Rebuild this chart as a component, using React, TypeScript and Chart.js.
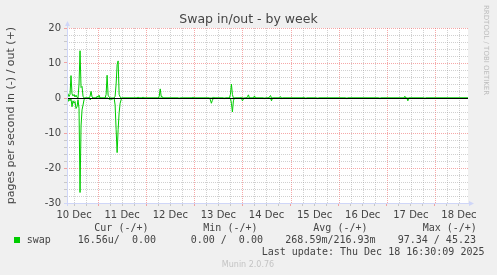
import React, { useEffect, useRef } from "react";
import { Chart, registerables } from "chart.js";

Chart.register(...registerables);

// ---- text ----
const titleText = "Swap in/out - by week";
const yAxisTitle = "pages per second in (-) / out (+)";
const watermark = "RRDTOOL / TOBI OETIKER";
const legendHeaders = ["Cur (-/+)", "Min (-/+)", "Avg (-/+)", "Max (-/+)"];
const legendName = "swap";
const legendValues = ["16.56u/  0.00", "0.00 /  0.00", "268.59m/216.93m", "97.34 / 45.23"];
const lastUpdate = "Last update: Thu Dec 18 16:30:09 2025";
const footerText = "Munin 2.0.76";

// ---- axes (x in hours since 10 Dec 00:00) ----
const xMin = 8.5;
const xMax = 208.5;
const xGridStepHours = 6;
const xMajorHours = 24;
const dayLabels = ["10 Dec", "11 Dec", "12 Dec", "13 Dec", "14 Dec", "15 Dec", "16 Dec", "17 Dec", "18 Dec"];
const dayLabelHours = [12, 36, 60, 84, 108, 132, 156, 180, 204];
const yMin = -30;
const yMax = 20;
const yGridStep = 2;
const yMajorStep = 10;

// ---- series: swap out (+) ----
const outHours = [
  8.5, 9, 9.5, 10, 10.5, 11, 11.5, 12, 12.5, 13, 13.5, 14, 14.5, 15, 15.5, 16, 16.5, 17,
  19.5, 20, 20.5, 21, 21.5,
  23, 23.5, 24, 24.5, 25,
  27.5, 28, 28.5, 29, 29.5, 30,
  32, 32.5, 33, 33.5, 34, 34.5, 35, 35.5,
  43.5, 44, 44.5,
  46, 46.5, 47,
  54, 54.5, 55, 55.5, 56, 56.5,
  71, 71.5, 72,
  81, 81.5, 82,
  89.5, 90, 90.5, 91, 91.5,
  95, 95.5, 96,
  98, 98.5, 99, 99.5,
  101.5, 102, 102.5,
  109, 109.5, 110, 110.5,
  114.5, 115, 115.5,
  126, 126.5, 127,
  176.5, 177, 177.5,
  208.5,
];
const outValues = [
  0.8, 1.2, 0.4, 1.0, 6.4, 1.2, 0.6, 1.0, 0.3, 0.8, 0.2, 0.0, 4.0, 13.5, 3.0, 3.3, 0.5, 0.0,
  0.0, 0.5, 1.9, 0.3, 0.0,
  0.0, 0.5, 0.3, 0.8, 0.0,
  0.0, 1.0, 6.5, 0.8, 0.3, 0.0,
  0.0, 0.5, 4.0, 9.5, 10.6, 1.0, 0.3, 0.0,
  0.0, 0.3, 0.0,
  0.0, 0.3, 0.0,
  0.0, 0.5, 2.6, 0.4, 0.4, 0.0,
  0.0, 0.3, 0.0,
  0.0, 0.3, 0.0,
  0.0, 1.0, 4.0, 1.0, 0.0,
  0.0, 0.3, 0.0,
  0.0, 0.4, 0.9, 0.0,
  0.0, 0.6, 0.0,
  0.0, 0.4, 0.7, 0.0,
  0.0, 0.4, 0.0,
  0.0, 0.3, 0.0,
  0.0, 0.5, 0.0,
  0.0,
];

// ---- series: swap in (-) ----
const inHours = [
  8.5, 9, 9.5, 10, 10.5, 11, 11.5, 12, 12.5, 13, 13.5, 14, 14.5, 15, 15.5, 16, 16.5, 17, 17.5,
  19.5, 20, 20.5, 21,
  29, 29.5, 30, 30.5, 31, 31.5, 32,
  32.5, 33, 33.5, 34, 34.5, 35, 35.5, 36,
  64, 64.5, 65,
  79.5, 80, 80.5, 81, 81.5,
  86.5, 87, 87.5,
  90, 90.5, 91, 91.5, 92,
  95.5, 96, 96.5, 97,
  106.5, 107, 107.5,
  110, 110.5, 111,
  115, 115.5, 116,
  127, 127.5, 128,
  133, 133.5, 134,
  147.5, 148, 148.5,
  164, 164.5, 165,
  178, 178.5, 179,
  186.5, 187, 187.5,
  208.5,
];
const inValues = [
  -0.3, -1.0, -0.3, -0.8, -0.2, -2.5, -0.8, -1.5, -1.0, -3.0, -2.5, -0.5, -3.0, -27.0, -8.0, -3.4, -2.0, -0.5, 0.0,
  0.0, -0.5, -0.3, 0.0,
  0.0, -0.4, -0.3, -0.4, -0.3, -0.2, 0.0,
  -2.0, -9.0, -15.6, -9.0, -4.2, -1.5, -0.5, 0.0,
  0.0, -0.3, 0.0,
  0.0, -0.5, -1.5, -0.7, 0.0,
  0.0, -0.3, 0.0,
  0.0, -1.5, -4.0, -0.8, 0.0,
  0.0, -0.8, -0.3, 0.0,
  0.0, -0.3, 0.0,
  0.0, -0.8, 0.0,
  0.0, -0.3, 0.0,
  0.0, -0.3, 0.0,
  0.0, -0.3, 0.0,
  0.0, -0.3, 0.0,
  0.0, -0.3, 0.0,
  0.0, -0.8, 0.0,
  0.0, -0.3, 0.0,
  0.0,
];

// ---- styling ----
const SERIES_COLOR = "#00cc00";
const BACK_COLOR = "#f0f0f0";
const CANVAS_COLOR = "#ffffff";
const MAJOR_GRID = "rgba(240,110,110,0.6)";
const MINOR_GRID = "rgba(150,150,150,0.45)";
const AXIS_COLOR = "#cfd6f8";
const TEXT_COLOR = "#444444";
const SANS = "'DejaVu Sans', sans-serif";
const MONO = "'DejaVu Sans Mono', monospace";

const toPoints = (xs: number[], ys: number[]) => xs.map((x, i) => ({ x, y: ys[i] }));

const range = (start: number, end: number, step: number) => {
  const out: number[] = [];
  for (let v = start; v <= end + 1e-9; v += step) out.push(Math.round(v * 1000) / 1000);
  return out;
};

const xColor = (v: number) => (v % xMajorHours === 0 ? MAJOR_GRID : MINOR_GRID);
const yColor = (v: number) => (v % yMajorStep === 0 ? MAJOR_GRID : MINOR_GRID);

const muninPlugin = {
  id: "muninDecor",
  beforeDraw(chart: any) {
    const { ctx, chartArea: a } = chart;
    ctx.save();
    ctx.fillStyle = BACK_COLOR;
    ctx.fillRect(0, 0, chart.width, chart.height);
    ctx.fillStyle = CANVAS_COLOR;
    ctx.fillRect(a.left, a.top, a.right - a.left, a.bottom - a.top);
    ctx.restore();
  },
  beforeDatasetsDraw(chart: any) {
    const { ctx, chartArea: a, scales } = chart;
    ctx.save();
    ctx.lineWidth = 1;
    ctx.setLineDash([1, 1]);
    scales.x.ticks.forEach((t: any) => {
      const px = Math.round(scales.x.getPixelForValue(t.value)) + 0.5;
      ctx.strokeStyle = xColor(t.value);
      ctx.beginPath();
      ctx.moveTo(px, a.top);
      ctx.lineTo(px, a.bottom);
      ctx.stroke();
    });
    scales.y.ticks.forEach((t: any) => {
      const py = Math.round(scales.y.getPixelForValue(t.value)) + 0.5;
      ctx.strokeStyle = yColor(t.value);
      ctx.beginPath();
      ctx.moveTo(a.left, py);
      ctx.lineTo(a.right, py);
      ctx.stroke();
    });
    ctx.restore();
  },
  afterDatasetsDraw(chart: any) {
    const { ctx, chartArea: a, scales } = chart;
    ctx.save();
    // zero rule
    const y0 = Math.round(scales.y.getPixelForValue(0)) + 0.5;
    ctx.strokeStyle = "#000000";
    ctx.lineWidth = 1;
    ctx.beginPath();
    ctx.moveTo(a.left, y0);
    ctx.lineTo(a.right, y0);
    ctx.stroke();
    // axes with arrows
    const lx = Math.round(a.left) + 0.5;
    const by = Math.round(a.bottom) + 0.5;
    ctx.strokeStyle = AXIS_COLOR;
    ctx.fillStyle = AXIS_COLOR;
    ctx.beginPath();
    ctx.moveTo(lx, a.bottom + 3);
    ctx.lineTo(lx, a.top - 4);
    ctx.moveTo(a.left - 3, by);
    ctx.lineTo(a.right + 3, by);
    ctx.stroke();
    ctx.beginPath();
    ctx.moveTo(lx, a.top - 7);
    ctx.lineTo(lx - 2.5, a.top - 2);
    ctx.lineTo(lx + 2.5, a.top - 2);
    ctx.closePath();
    ctx.fill();
    ctx.beginPath();
    ctx.moveTo(a.right + 6, by);
    ctx.lineTo(a.right + 1, by - 2.5);
    ctx.lineTo(a.right + 1, by + 2.5);
    ctx.closePath();
    ctx.fill();
    ctx.restore();
  },
  afterDraw(chart: any) {
    const { ctx } = chart;
    ctx.save();
    // title
    ctx.fillStyle = TEXT_COLOR;
    ctx.font = `12.5px ${SANS}`;
    ctx.textAlign = "center";
    ctx.textBaseline = "alphabetic";
    ctx.fillText(titleText, 248.5, 23);
    // watermark
    ctx.save();
    ctx.translate(486, 5);
    ctx.rotate(Math.PI / 2);
    ctx.font = `7px ${SANS}`;
    ctx.fillStyle = "#bcbcbc";
    ctx.textAlign = "left";
    ctx.textBaseline = "middle";
    ctx.fillText(watermark, 0, 0);
    ctx.restore();
    // legend
    ctx.font = `10px ${MONO}`;
    ctx.fillStyle = TEXT_COLOR;
    ctx.textAlign = "left";
    ctx.textBaseline = "alphabetic";
    const headerX = [94.3, 203.3, 313.3, 422.7];
    legendHeaders.forEach((h, i) => ctx.fillText(h, headerX[i], 231));
    ctx.fillStyle = SERIES_COLOR;
    ctx.fillRect(14, 237, 6, 6);
    ctx.fillStyle = TEXT_COLOR;
    ctx.fillText(legendName, 26.7, 243);
    const valueX = [77.7, 190.7, 285.3, 397.7];
    legendValues.forEach((v, i) => ctx.fillText(v, valueX[i], 243));
    ctx.fillText(lastUpdate, 261.7, 255);
    // footer
    ctx.font = `8px ${SANS}`;
    ctx.fillStyle = "#c4c4c4";
    ctx.textAlign = "center";
    ctx.fillText(footerText, 248, 266.5);
    ctx.restore();
  },
};

export default function App() {
  const ref = useRef<HTMLCanvasElement | null>(null);

  useEffect(() => {
    if (!ref.current) return;
    const chart = new Chart(ref.current, {
      type: "line",
      data: {
        datasets: [
          {
            label: "swap out",
            data: toPoints(outHours, outValues),
            borderColor: SERIES_COLOR,
            borderWidth: 1,
            pointRadius: 0,
            tension: 0,
            fill: false,
          },
          {
            label: "swap in",
            data: toPoints(inHours, inValues),
            borderColor: SERIES_COLOR,
            borderWidth: 1,
            pointRadius: 0,
            tension: 0,
            fill: false,
          },
        ],
      },
      options: {
        responsive: false,
        maintainAspectRatio: false,
        devicePixelRatio: 1,
        animation: false,
        events: [],
        layout: { padding: { top: 28, right: 29, bottom: 0, left: 0 } },
        plugins: {
          legend: { display: false },
          tooltip: { enabled: false },
          title: { display: false },
        },
        scales: {
          x: {
            type: "linear",
            min: xMin,
            max: xMax,
            afterBuildTicks: (scale: any) => {
              scale.ticks = range(12, xMax, xGridStepHours).map((v) => ({ value: v }));
            },
            afterFit: (scale: any) => {
              scale.height = 72;
            },
            grid: {
              drawOnChartArea: false,
              color: (c: any) => (c.tick ? xColor(c.tick.value) : MINOR_GRID),
              lineWidth: 1,
              drawTicks: true,
              tickLength: 3,
            },
            border: { display: false },
            ticks: {
              autoSkip: false,
              maxRotation: 0,
              minRotation: 0,
              padding: 3,
              color: TEXT_COLOR,
              font: { family: SANS, size: 10 },
              callback: (value: any) => {
                const idx = dayLabelHours.indexOf(Number(value));
                return idx >= 0 ? dayLabels[idx] : "";
              },
            },
          },
          y: {
            type: "linear",
            min: yMin,
            max: yMax,
            afterBuildTicks: (scale: any) => {
              scale.ticks = range(yMin, yMax, yGridStep).map((v) => ({ value: v }));
            },
            afterFit: (scale: any) => {
              scale.width = 67;
            },
            grid: {
              drawOnChartArea: false,
              color: (c: any) => (c.tick ? yColor(c.tick.value) : MINOR_GRID),
              lineWidth: 1,
              drawTicks: true,
              tickLength: 3,
            },
            border: { display: false },
            title: {
              display: true,
              text: yAxisTitle,
              color: TEXT_COLOR,
              font: { family: SANS, size: 11 },
              padding: { top: 5, bottom: 0 },
            },
            ticks: {
              autoSkip: false,
              padding: 3,
              color: TEXT_COLOR,
              font: { family: SANS, size: 10 },
              callback: (value: any) => (Number(value) % yMajorStep === 0 ? String(value) : ""),
            },
          },
        },
      },
      plugins: [muninPlugin],
    } as any);
    return () => chart.destroy();
  }, []);

  return (
    <div style={{ position: "absolute", left: 0, top: 0, width: 497, height: 275, background: BACK_COLOR }}>
      <canvas ref={ref} width={497} height={275} style={{ display: "block", width: 497, height: 275 }} />
    </div>
  );
}
